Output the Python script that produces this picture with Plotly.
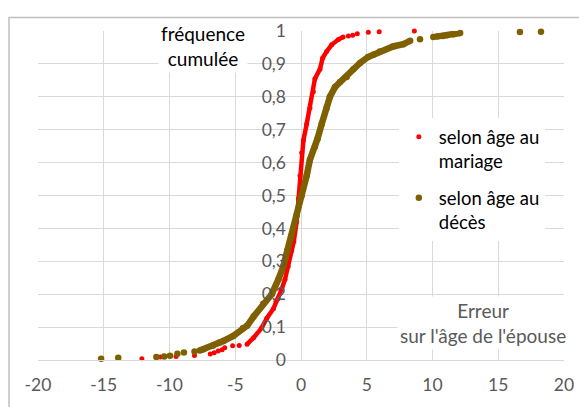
import plotly.graph_objects as go

# ---- data ----
mariage_x = [-12.1, -10.7, -9.5, -8.1, -6.9, -6.6, -6.3, -6.0, -5.8, -5.2, -4.7, -4.1,
             -3.6, -3.0, -2.6, -2.1, -1.75, -1.47, -1.22, -0.98, -0.71, -0.55, -0.33,
             -0.2, -0.08, 0.05, 0.18, 0.43, 0.68, 0.94, 1.06, 1.44, 1.65, 1.95, 2.33,
             2.84, 3.2, 3.6, 3.93, 4.28, 5.12, 5.95, 8.62]
mariage_y = [0.004, 0.009, 0.011, 0.014, 0.018, 0.022, 0.027, 0.031, 0.037, 0.043, 0.044, 0.048,
             0.068, 0.097, 0.127, 0.156, 0.186, 0.215, 0.245, 0.284, 0.333, 0.36, 0.42,
             0.49, 0.56, 0.63, 0.667, 0.717, 0.766, 0.815, 0.855, 0.884, 0.918, 0.938, 0.958,
             0.974, 0.982, 0.985, 0.987, 0.992, 0.996, 0.998, 1.0]

deces_x = [-15.2, -13.9, -11.0, -10.4, -9.96, -9.4, -8.9, -8.1, -7.7, -7.4, -6.7, -6.2,
           -5.9, -5.15, -4.4, -4.1, -3.6, -2.87, -2.23, -1.72, -1.35, -1.04, -0.75, -0.33,
           0.05, 0.43, 0.68, 1.06, 1.25, 1.57, 1.95, 2.2, 2.59, 2.97, 3.47, 3.98, 4.49,
           5.1, 5.5, 6.0, 7.0, 7.78, 8.3, 9.05, 10.06, 10.3, 10.8, 11.1, 11.6, 12.1,
           16.65, 18.25]
deces_y = [0.004, 0.007, 0.009, 0.011, 0.013, 0.019, 0.023, 0.026, 0.029, 0.033, 0.043, 0.053,
           0.058, 0.073, 0.097, 0.104, 0.132, 0.171, 0.2, 0.245, 0.284, 0.333, 0.375, 0.44,
           0.5, 0.56, 0.609, 0.648, 0.672, 0.717, 0.766, 0.8, 0.83, 0.845, 0.86, 0.884, 0.903,
           0.921, 0.928, 0.938, 0.953, 0.96, 0.97, 0.975, 0.982, 0.983, 0.985, 0.987, 0.99, 0.994,
           0.997, 0.998]

x_tickvals = [-20, -15, -10, -5, 0, 5, 10, 15, 20]
x_ticktext = ["-20", "-15", "-10", "-5", "0", "5", "10", "15", "20"]
y_tickvals = [0, 0.1, 0.2, 0.3, 0.4, 0.5, 0.6, 0.7, 0.8, 0.9, 1]
y_ticktext = ["0", "0,1", "0,2", "0,3", "0,4", "0,5", "0,6", "0,7", "0,8", "0,9", "1"]

names = ["selon âge au<br>mariage", "selon âge au<br>décès"]

# x-ranges where the dots are so dense they merge into a continuous stroke
mariage_dense = [(-4.1, 3.2)]
deces_dense = [(-7.7, 8.3), (10.3, 12.1)]

RED = "#ff0000"
BROWN = "#7f6000"

fig = go.Figure()


def add_series(xs, ys, dense, color, msize, lwidth, name, group):
    for lo, hi in dense:
        sx = [x for x in xs if lo <= x <= hi]
        sy = [y for x, y in zip(xs, ys) if lo <= x <= hi]
        fig.add_trace(go.Scatter(x=sx, y=sy, mode="lines", line=dict(color=color, width=lwidth),
                                 showlegend=False, legendgroup=group, hoverinfo="skip",
                                 cliponaxis=False))
    fig.add_trace(go.Scatter(x=xs, y=ys, mode="markers", name=name, legendgroup=group,
                             marker=dict(color=color, size=msize, line=dict(width=0)),
                             cliponaxis=False))


add_series(mariage_x, mariage_y, mariage_dense, RED, 5, 4.5, names[0], "m")
add_series(deces_x, deces_y, deces_dense, BROWN, 6.5, 6.5, names[1], "d")

GRID = "#d9d9d9"
fig.update_layout(
    width=579, height=399,
    margin=dict(l=30, r=23, t=16, b=44),
    paper_bgcolor="white", plot_bgcolor="white",
    font=dict(family="Lato, Carlito, sans-serif"),
    legend=dict(x=0.686, y=0.735, xanchor="left", yanchor="top", bgcolor="white",
                font=dict(size=18.5, color="black"), valign="top", itemwidth=30,
                tracegroupgap=10),
    xaxis=dict(range=[-20, 20], tickvals=x_tickvals, ticktext=x_ticktext,
               showgrid=True, gridcolor=GRID, gridwidth=1,
               zeroline=True, zerolinecolor=GRID, zerolinewidth=1,
               showline=True, linecolor=GRID, linewidth=1,
               ticks="", ticklabelstandoff=9, tickfont=dict(size=17.5, color="#595959")),
    yaxis=dict(range=[0, 1], tickvals=y_tickvals, ticktext=y_ticktext,
               anchor="free", position=0.5,
               showgrid=True, gridcolor=GRID, gridwidth=1, zeroline=False,
               showline=False, ticks="", ticklabelstandoff=15,
               tickfont=dict(size=17.5, color="#595959")),
    annotations=[
        dict(x=0.3137, y=0.954, xref="paper", yref="paper", text="fréquence<br>cumulée",
             showarrow=False, font=dict(size=19, color="black"), bgcolor="white",
             borderpad=2, xanchor="center", yanchor="middle"),
        dict(x=0.846, y=0.113, xref="paper", yref="paper",
             text="Erreur<br>sur l'âge de l'épouse",
             showarrow=False, font=dict(size=19, color="#595959"), bgcolor="white",
             borderpad=2, xanchor="center", yanchor="middle"),
    ],
    shapes=[
        dict(type="rect", xref="paper", yref="paper", x0=-0.0551, y0=-0.4, x1=1.3, y1=1.0413,
             line=dict(color="#bfbfbf", width=1.5), fillcolor="rgba(0,0,0,0)", layer="below"),
    ],
)

fig.write_html("out.html")
